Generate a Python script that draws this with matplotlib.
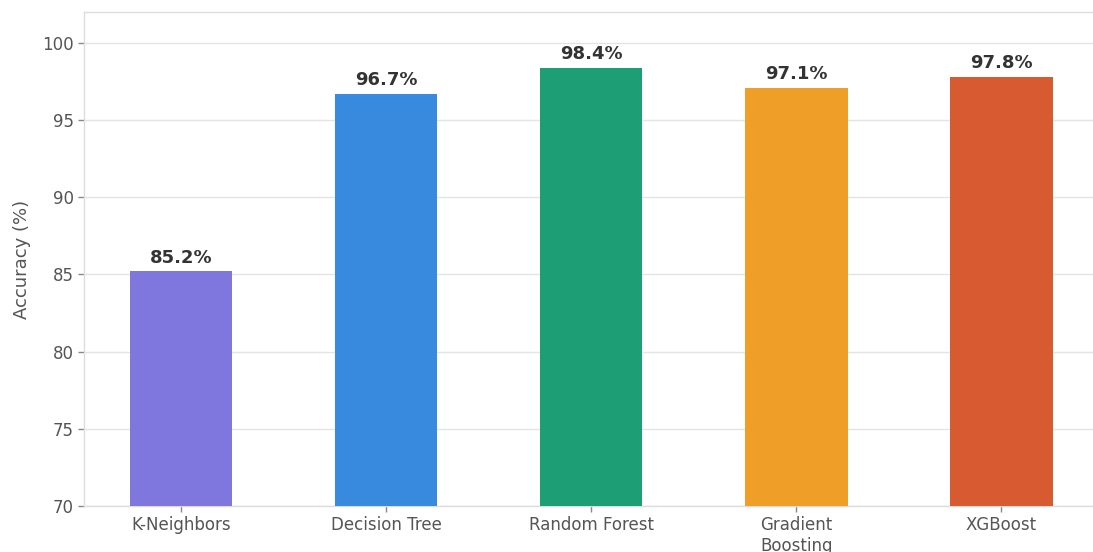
import matplotlib
matplotlib.use("Agg")
import matplotlib.pyplot as plt

models = ["K-Neighbors", "Decision Tree", "Random Forest", "Gradient\nBoosting", "XGBoost"]
accuracy = [85.2, 96.7, 98.4, 97.1, 97.8]
colors = ["#7f77dd", "#378ade", "#1d9e75", "#ef9f27", "#d85a30"]
yticks = [70, 75, 80, 85, 90, 95, 100]

plt.rcParams["font.family"] = ["DejaVu Sans"]

fig = plt.figure(figsize=(10.93, 5.52), dpi=100)
ax = fig.add_axes([0.0769, 0.0833, 0.928, 0.895])

x = range(len(models))
bars = ax.bar(x, accuracy, width=0.5, color=colors, zorder=3)

for b, v in zip(bars, accuracy):
    ax.text(b.get_x() + b.get_width() / 2, v + 0.3, f"{v}%",
            ha="center", va="bottom", fontsize=13, fontweight="bold",
            color="#333333", zorder=4)

ax.set_ylim(70, 102)
ax.set_xlim(-0.473, 4.473)
ax.set_yticks(yticks)
ax.set_xticks(list(x))
ax.set_xticklabels(models)
ax.set_ylabel("Accuracy (%)", fontsize=13, color="#555555", labelpad=8)

ax.grid(axis="y", color="#e4e4e4", linewidth=1.0, zorder=0)
ax.grid(axis="x", visible=False)
for s in ax.spines.values():
    s.set_color("#dddddd")
    s.set_linewidth(1.0)

ax.tick_params(axis="both", colors="#888888", labelcolor="#555555",
               labelsize=12, length=4, width=1)

fig.savefig("out.png", dpi=100)
